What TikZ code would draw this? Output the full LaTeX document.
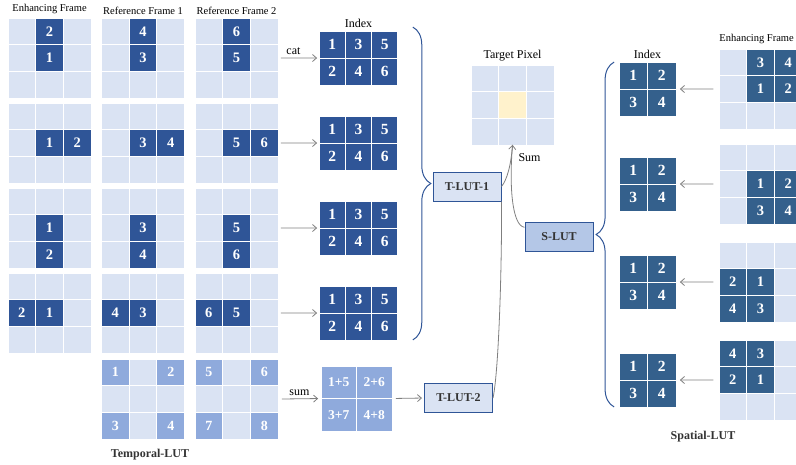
\documentclass[tikz,border=0pt]{standalone}
\usepackage{fontspec}
\setmainfont{Liberation Serif}
\usetikzlibrary{positioning,arrows.meta,calc,fit,decorations.pathreplacing}
\definecolor{lutdark}{HTML}{2F5597}
\definecolor{spdark}{HTML}{34608C}
\definecolor{lutlight}{HTML}{DAE3F3}
\definecolor{lutmid}{HTML}{8FAADC}
\definecolor{slutfill}{HTML}{B4C7E7}
\definecolor{tgtyellow}{HTML}{FFF2CC}
\definecolor{agray}{HTML}{7F7F7F}
\tikzset{
  px/.style   ={minimum width=26.7pt, minimum height=25.7pt, inner sep=0pt, fill=lutlight},
  hot/.style  ={px, fill=lutdark, text=white, font=\bfseries\fontsize{14.5}{14.5}\selectfont},
  shot/.style ={hot, fill=spdark},
  soft/.style ={px, fill=lutmid, text=white, font=\bfseries\fontsize{14}{14}\selectfont},
  idx/.style  ={minimum width=25.3pt, minimum height=26pt, inner sep=0pt, fill=lutdark,
                text=white, font=\bfseries\fontsize{15.5}{15.5}\selectfont},
  sidx/.style ={idx, minimum width=27.5pt, fill=spdark},
  sumc/.style ={minimum width=34.5pt, minimum height=31.5pt, inner sep=0pt, fill=lutmid,
                text=white, font=\bfseries\fontsize{13.5}{13.5}\selectfont},
  lut/.style  ={draw=lutdark, line width=1pt, fill=lutlight, minimum width=68pt, minimum height=29pt,
                inner sep=0pt, text=black!80, font=\bfseries\fontsize{12}{12}\selectfont},
  ttl/.style  ={inner sep=1pt, font=\fontsize{10.5}{10.5}\selectfont},
  lbl/.style  ={inner sep=1pt, font=\fontsize{12}{12}\selectfont},
  blbl/.style ={inner sep=1pt, text=black!80, font=\bfseries\fontsize{12}{12}\selectfont},
  arr/.style  ={-{Straight Barb[length=4pt,width=7pt]}, draw=agray, line width=0.8pt},
  gline/.style={draw=agray, line width=0.8pt},
  brc/.style  ={decorate, decoration={brace, amplitude=18pt}, draw=lutdark, line width=1pt},
}
\newcommand{\pixgrid}[3]{%
  \foreach \rr in {1,2,3}\foreach \cc in {1,2,3}{%
     \node[px] (#1-\rr\cc) at ({#2+(\cc-0.5)*27.7},{#3+(\rr-0.5)*26.7}) {};}}

\begin{document}
\begin{tikzpicture}[x=1pt,y=-1pt]
      \useasboundingbox (0,0) rectangle (796,464);
      \clip (0,0) rectangle (796,464);
      % temporal frames: 4 sampling patterns x 3 frames
      \foreach \bb/\pr/\pc in {1/1/2,2/2/3,3/3/2,4/2/1}{
        \foreach \ff in {0,1,2}{
          \pixgrid{g\bb\ff}{8+\ff*93.5}{18+(\bb-1)*85}
          \pgfmathtruncatemacro{\na}{2*\ff+1}
          \pgfmathtruncatemacro{\nb}{2*\ff+2}
          \node[hot] (h\bb\ff-a) at (g\bb\ff-22) {\na};
          \node[hot] (h\bb\ff-b) at (g\bb\ff-\pr\pc) {\nb};
        }
        \foreach \rr in {1,2}\foreach \cc in {1,2,3}{
          \pgfmathtruncatemacro{\nn}{2*\cc-2+\rr}
          \node[idx] (ix\bb-\rr\cc) at ({319+(\cc-0.5)*26.3},{58+(\bb-1)*85+(\rr-1.5)*27}) {\nn};}
        \node[fit=(ix\bb-11)(ix\bb-23), inner sep=0pt] (ix\bb) {};
        \draw[arr, shorten <=3pt, shorten >=2pt] (g\bb2-23.east) -- (ix\bb.west);
      }
      \node[ttl, above=3pt of g10-12] (ttl0) {Enhancing Frame};
      \node[ttl, above=3pt of g11-12] (ttl1) {Reference Frame 1};
      \node[ttl, above=3pt of g12-12] (ttl2) {Reference Frame 2};
      \node[lbl, above=2pt of ix1] (ixlbl) {Index};
      \path (g12-23.east) -- node[lbl, above=2pt, xshift=-5pt] (catlbl) {cat} (ix1.west);
      \draw[brc] ([xshift=15pt,yshift=4pt]ix1.north east) -- ([xshift=15pt]ix4.south east);
      % temporal sum branch
      \foreach \ff in {1,2}{
        \pixgrid{t\ff}{8+\ff*93.5}{359}
        \foreach \cl/\kk in {11/1,13/2,31/3,33/4}{
          \pgfmathtruncatemacro{\nn}{4*(\ff-1)+\kk}
          \node[soft] (t\ff-n\kk) at (t\ff-\cl) {\nn};}
      }
      \node[blbl] (tplbl) at (150,455) {Temporal-LUT};
      \foreach \rr/\cc/\txt in {1/1/1+5,1/2/2+6,2/1/3+7,2/2/4+8}
        \node[sumc] (sm-\rr\cc) at ({321+(\cc-0.5)*35.5},{366+(\rr-0.5)*32.5}) {\txt};
      \node[fit=(sm-11)(sm-22), inner sep=0pt] (sm) {};
      \draw[arr, shorten <=4pt, shorten >=3pt] (t2-23.east) -- node[lbl, above=2pt] (sumlbl) {sum} (sm.west);
      % LUT boxes and target pixel
      \node[lut] (tl1) at (467,186.5) {T-LUT-1};
      \node[lut] (tl2) at (458.5,398) {T-LUT-2};
      \node[lut, fill=slutfill] (sl) at (559,236.5) {S-LUT};
      \draw[arr, shorten <=4pt, shorten >=2pt] (sm.east) -- (tl2.west);
      \pixgrid{tp}{471}{65}
      \node[px, fill=tgtyellow] (tpc) at (tp-22) {};
      \node[lbl, above=3pt of tp-12] (tplabel) {Target Pixel};
      \draw[arr] (tl1.east) .. controls (507,180) and (511,165) .. (tp-32.south);
      \draw[gline] (sl.165) .. controls (512,226) and (509,185) .. (tp-32.south);
      \draw[gline] (tl2.east) .. controls (499,370) and (502,260) .. (tl1.south east);
      \node[lbl, below=8pt of tp-32.south, xshift=17pt] (sumout) {Sum};
      % spatial branch
      \foreach \bb/\yy in {1/89,2/184,3/282,4/380}{
        \pixgrid{sf\bb}{719}{\yy-40}
        \foreach \rr in {1,2}\foreach \cc in {1,2}{
          \pgfmathtruncatemacro{\nn}{2*\rr-2+\cc}
          \node[sidx] (sx\bb-\rr\cc) at ({619+(\cc-0.5)*28.5},{\yy+(\rr-1.5)*27}) {\nn};}
        \node[fit=(sx\bb-11)(sx\bb-22), inner sep=0pt] (sx\bb) {};
        \draw[arr, shorten <=6pt, shorten >=4pt] (sf\bb-21.west) -- (sx\bb.east);
      }
      \foreach \cl/\nn in {12/3,13/4,22/1,23/2} \node[shot] (sf1-n\nn) at (sf1-\cl) {\nn};
      \foreach \cl/\nn in {22/1,23/2,32/3,33/4} \node[shot] (sf2-n\nn) at (sf2-\cl) {\nn};
      \foreach \cl/\nn in {21/2,22/1,31/4,32/3} \node[shot] (sf3-n\nn) at (sf3-\cl) {\nn};
      \foreach \cl/\nn in {11/4,12/3,21/2,22/1} \node[shot] (sf4-n\nn) at (sf4-\cl) {\nn};
      \node[ttl, anchor=south east] (sfttl) at (795,45) {Enhancing Frame};
      \node[lbl, above=2pt of sx1] (sxlbl) {Index};
      \draw[brc] ([xshift=-5pt]sx4.south west) -- ([xshift=-5pt]sx1.north west);
      \node[blbl] (splbl) at (703,437) {Spatial-LUT};
    \end{tikzpicture}
\end{document}
